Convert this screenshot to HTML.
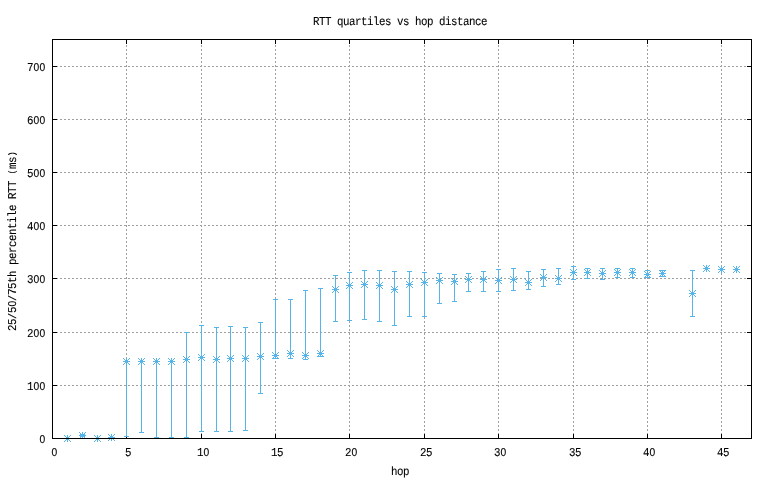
<!DOCTYPE html>
<html lang="en"><head><meta charset="utf-8"><title>RTT quartiles vs hop distance</title>
<style>html,body{margin:0;padding:0;background:#fff;}body{width:770px;height:480px;overflow:hidden;}svg{display:block;}text{font-family:"Liberation Mono","DejaVu Sans Mono",monospace;font-size:12px;text-rendering:geometricPrecision;fill:#000;stroke:#000;stroke-width:0.1px;white-space:pre;}.z{font-family:"Liberation Sans",sans-serif;font-size:11.4px;}.s{font-size:11px;}.p{font-size:9.6px;}</style></head><body>
<svg width="770" height="480" viewBox="0 0 770 480">
<rect x="0" y="0" width="770" height="480" fill="#fff"/>
<defs><g id="m" fill="#56b4e9" shape-rendering="crispEdges">
<rect x="-3" y="0" width="7" height="1"/><rect x="0" y="-3" width="1" height="7"/>
<rect x="-1" y="-1" width="1" height="1"/>
<rect x="-1" y="1" width="1" height="1"/>
<rect x="1" y="-1" width="1" height="1"/>
<rect x="1" y="1" width="1" height="1"/>
<rect x="-2" y="-2" width="1" height="1"/>
<rect x="-2" y="2" width="1" height="1"/>
<rect x="2" y="-2" width="1" height="1"/>
<rect x="2" y="2" width="1" height="1"/>
<rect x="-3" y="-3" width="1" height="1"/>
<rect x="-3" y="3" width="1" height="1"/>
<rect x="3" y="-3" width="1" height="1"/>
<rect x="3" y="3" width="1" height="1"/>
</g></defs>
<g stroke="#a0a0a0" stroke-width="1" stroke-dasharray="2 2" shape-rendering="crispEdges" fill="none">
<line x1="52" y1="385.5" x2="752" y2="385.5"/>
<line x1="52" y1="332.5" x2="752" y2="332.5"/>
<line x1="52" y1="278.5" x2="752" y2="278.5"/>
<line x1="52" y1="225.5" x2="752" y2="225.5"/>
<line x1="52" y1="172.5" x2="752" y2="172.5"/>
<line x1="52" y1="119.5" x2="752" y2="119.5"/>
<line x1="52" y1="66.5" x2="752" y2="66.5"/>
<line x1="126.5" y1="439" x2="126.5" y2="39"/>
<line x1="201.5" y1="439" x2="201.5" y2="39"/>
<line x1="275.5" y1="439" x2="275.5" y2="39"/>
<line x1="349.5" y1="439" x2="349.5" y2="39"/>
<line x1="424.5" y1="439" x2="424.5" y2="39"/>
<line x1="498.5" y1="439" x2="498.5" y2="39"/>
<line x1="573.5" y1="439" x2="573.5" y2="39"/>
<line x1="647.5" y1="439" x2="647.5" y2="39"/>
<line x1="721.5" y1="439" x2="721.5" y2="39"/>
</g>
<g fill="#000" shape-rendering="crispEdges">
<rect x="52" y="438" width="5" height="1"/>
<rect x="747" y="438" width="5" height="1"/>
<rect x="52" y="385" width="5" height="1"/>
<rect x="747" y="385" width="5" height="1"/>
<rect x="52" y="332" width="5" height="1"/>
<rect x="747" y="332" width="5" height="1"/>
<rect x="52" y="278" width="5" height="1"/>
<rect x="747" y="278" width="5" height="1"/>
<rect x="52" y="225" width="5" height="1"/>
<rect x="747" y="225" width="5" height="1"/>
<rect x="52" y="172" width="5" height="1"/>
<rect x="747" y="172" width="5" height="1"/>
<rect x="52" y="119" width="5" height="1"/>
<rect x="747" y="119" width="5" height="1"/>
<rect x="52" y="66" width="5" height="1"/>
<rect x="747" y="66" width="5" height="1"/>
<rect x="52" y="434" width="1" height="5"/>
<rect x="52" y="39" width="1" height="5"/>
<rect x="126" y="434" width="1" height="5"/>
<rect x="126" y="39" width="1" height="5"/>
<rect x="201" y="434" width="1" height="5"/>
<rect x="201" y="39" width="1" height="5"/>
<rect x="275" y="434" width="1" height="5"/>
<rect x="275" y="39" width="1" height="5"/>
<rect x="349" y="434" width="1" height="5"/>
<rect x="349" y="39" width="1" height="5"/>
<rect x="424" y="434" width="1" height="5"/>
<rect x="424" y="39" width="1" height="5"/>
<rect x="498" y="434" width="1" height="5"/>
<rect x="498" y="39" width="1" height="5"/>
<rect x="573" y="434" width="1" height="5"/>
<rect x="573" y="39" width="1" height="5"/>
<rect x="647" y="434" width="1" height="5"/>
<rect x="647" y="39" width="1" height="5"/>
<rect x="721" y="434" width="1" height="5"/>
<rect x="721" y="39" width="1" height="5"/>
</g>
<g fill="#56b4e9" shape-rendering="crispEdges">
<rect x="65" y="438" width="5" height="1"/>
<rect x="65" y="438" width="5" height="1"/>
<rect x="82" y="434" width="1" height="3"/>
<rect x="80" y="434" width="5" height="1"/>
<rect x="80" y="436" width="5" height="1"/>
<rect x="95" y="438" width="5" height="1"/>
<rect x="95" y="438" width="5" height="1"/>
<rect x="109" y="437" width="5" height="1"/>
<rect x="109" y="437" width="5" height="1"/>
<rect x="126" y="361" width="1" height="76"/>
<rect x="124" y="361" width="5" height="1"/>
<rect x="124" y="436" width="5" height="1"/>
<rect x="141" y="361" width="1" height="72"/>
<rect x="139" y="361" width="5" height="1"/>
<rect x="139" y="432" width="5" height="1"/>
<rect x="156" y="361" width="1" height="77"/>
<rect x="154" y="361" width="5" height="1"/>
<rect x="154" y="437" width="5" height="1"/>
<rect x="171" y="361" width="1" height="77"/>
<rect x="169" y="361" width="5" height="1"/>
<rect x="169" y="437" width="5" height="1"/>
<rect x="186" y="332" width="1" height="106"/>
<rect x="184" y="332" width="5" height="1"/>
<rect x="184" y="437" width="5" height="1"/>
<rect x="201" y="325" width="1" height="107"/>
<rect x="199" y="325" width="5" height="1"/>
<rect x="199" y="431" width="5" height="1"/>
<rect x="216" y="327" width="1" height="105"/>
<rect x="214" y="327" width="5" height="1"/>
<rect x="214" y="431" width="5" height="1"/>
<rect x="230" y="326" width="1" height="106"/>
<rect x="228" y="326" width="5" height="1"/>
<rect x="228" y="431" width="5" height="1"/>
<rect x="245" y="327" width="1" height="104"/>
<rect x="243" y="327" width="5" height="1"/>
<rect x="243" y="430" width="5" height="1"/>
<rect x="260" y="322" width="1" height="72"/>
<rect x="258" y="322" width="5" height="1"/>
<rect x="258" y="393" width="5" height="1"/>
<rect x="275" y="299" width="1" height="60"/>
<rect x="273" y="299" width="5" height="1"/>
<rect x="273" y="358" width="5" height="1"/>
<rect x="290" y="299" width="1" height="60"/>
<rect x="288" y="299" width="5" height="1"/>
<rect x="288" y="358" width="5" height="1"/>
<rect x="305" y="290" width="1" height="70"/>
<rect x="303" y="290" width="5" height="1"/>
<rect x="303" y="359" width="5" height="1"/>
<rect x="320" y="288" width="1" height="69"/>
<rect x="318" y="288" width="5" height="1"/>
<rect x="318" y="356" width="5" height="1"/>
<rect x="335" y="275" width="1" height="47"/>
<rect x="333" y="275" width="5" height="1"/>
<rect x="333" y="321" width="5" height="1"/>
<rect x="349" y="272" width="1" height="49"/>
<rect x="347" y="272" width="5" height="1"/>
<rect x="347" y="320" width="5" height="1"/>
<rect x="364" y="270" width="1" height="50"/>
<rect x="362" y="270" width="5" height="1"/>
<rect x="362" y="319" width="5" height="1"/>
<rect x="379" y="270" width="1" height="52"/>
<rect x="377" y="270" width="5" height="1"/>
<rect x="377" y="321" width="5" height="1"/>
<rect x="394" y="271" width="1" height="55"/>
<rect x="392" y="271" width="5" height="1"/>
<rect x="392" y="325" width="5" height="1"/>
<rect x="409" y="271" width="1" height="46"/>
<rect x="407" y="271" width="5" height="1"/>
<rect x="407" y="316" width="5" height="1"/>
<rect x="424" y="272" width="1" height="45"/>
<rect x="422" y="272" width="5" height="1"/>
<rect x="422" y="316" width="5" height="1"/>
<rect x="439" y="273" width="1" height="31"/>
<rect x="437" y="273" width="5" height="1"/>
<rect x="437" y="303" width="5" height="1"/>
<rect x="454" y="274" width="1" height="28"/>
<rect x="452" y="274" width="5" height="1"/>
<rect x="452" y="301" width="5" height="1"/>
<rect x="468" y="273" width="1" height="19"/>
<rect x="466" y="273" width="5" height="1"/>
<rect x="466" y="291" width="5" height="1"/>
<rect x="483" y="271" width="1" height="21"/>
<rect x="481" y="271" width="5" height="1"/>
<rect x="481" y="291" width="5" height="1"/>
<rect x="498" y="269" width="1" height="23"/>
<rect x="496" y="269" width="5" height="1"/>
<rect x="496" y="291" width="5" height="1"/>
<rect x="513" y="268" width="1" height="23"/>
<rect x="511" y="268" width="5" height="1"/>
<rect x="511" y="290" width="5" height="1"/>
<rect x="528" y="271" width="1" height="19"/>
<rect x="526" y="271" width="5" height="1"/>
<rect x="526" y="289" width="5" height="1"/>
<rect x="543" y="269" width="1" height="18"/>
<rect x="541" y="269" width="5" height="1"/>
<rect x="541" y="286" width="5" height="1"/>
<rect x="558" y="268" width="1" height="17"/>
<rect x="556" y="268" width="5" height="1"/>
<rect x="556" y="284" width="5" height="1"/>
<rect x="573" y="266" width="1" height="14"/>
<rect x="571" y="266" width="5" height="1"/>
<rect x="571" y="279" width="5" height="1"/>
<rect x="587" y="268" width="1" height="11"/>
<rect x="585" y="268" width="5" height="1"/>
<rect x="585" y="278" width="5" height="1"/>
<rect x="602" y="268" width="1" height="12"/>
<rect x="600" y="268" width="5" height="1"/>
<rect x="600" y="279" width="5" height="1"/>
<rect x="617" y="268" width="1" height="10"/>
<rect x="615" y="268" width="5" height="1"/>
<rect x="615" y="277" width="5" height="1"/>
<rect x="632" y="268" width="1" height="10"/>
<rect x="630" y="268" width="5" height="1"/>
<rect x="630" y="277" width="5" height="1"/>
<rect x="647" y="270" width="1" height="8"/>
<rect x="645" y="270" width="5" height="1"/>
<rect x="645" y="277" width="5" height="1"/>
<rect x="662" y="270" width="1" height="7"/>
<rect x="660" y="270" width="5" height="1"/>
<rect x="660" y="276" width="5" height="1"/>
<rect x="692" y="270" width="1" height="47"/>
<rect x="690" y="270" width="5" height="1"/>
<rect x="690" y="316" width="5" height="1"/>
<rect x="704" y="268" width="5" height="1"/>
<rect x="704" y="268" width="5" height="1"/>
<rect x="719" y="269" width="5" height="1"/>
<rect x="719" y="269" width="5" height="1"/>
<rect x="734" y="269" width="5" height="1"/>
<rect x="734" y="269" width="5" height="1"/>
</g>
<use href="#m" x="67" y="438"/>
<use href="#m" x="82" y="435"/>
<use href="#m" x="97" y="438"/>
<use href="#m" x="111" y="437"/>
<use href="#m" x="126" y="361"/>
<use href="#m" x="141" y="361"/>
<use href="#m" x="156" y="361"/>
<use href="#m" x="171" y="361"/>
<use href="#m" x="186" y="359"/>
<use href="#m" x="201" y="357"/>
<use href="#m" x="216" y="359"/>
<use href="#m" x="230" y="358"/>
<use href="#m" x="245" y="358"/>
<use href="#m" x="260" y="356"/>
<use href="#m" x="275" y="355"/>
<use href="#m" x="290" y="353"/>
<use href="#m" x="305" y="355"/>
<use href="#m" x="320" y="353"/>
<use href="#m" x="335" y="289"/>
<use href="#m" x="349" y="285"/>
<use href="#m" x="364" y="284"/>
<use href="#m" x="379" y="285"/>
<use href="#m" x="394" y="289"/>
<use href="#m" x="409" y="284"/>
<use href="#m" x="424" y="282"/>
<use href="#m" x="439" y="280"/>
<use href="#m" x="454" y="281"/>
<use href="#m" x="468" y="279"/>
<use href="#m" x="483" y="279"/>
<use href="#m" x="498" y="280"/>
<use href="#m" x="513" y="279"/>
<use href="#m" x="528" y="282"/>
<use href="#m" x="543" y="277"/>
<use href="#m" x="558" y="278"/>
<use href="#m" x="573" y="272"/>
<use href="#m" x="587" y="272"/>
<use href="#m" x="602" y="273"/>
<use href="#m" x="617" y="272"/>
<use href="#m" x="632" y="272"/>
<use href="#m" x="647" y="274"/>
<use href="#m" x="662" y="273"/>
<use href="#m" x="692" y="293"/>
<use href="#m" x="706" y="268"/>
<use href="#m" x="721" y="269"/>
<use href="#m" x="736" y="269"/>
<g fill="#000" shape-rendering="crispEdges">
<rect x="52" y="39" width="700" height="1"/>
<rect x="52" y="438" width="700" height="1"/>
<rect x="52" y="39" width="1" height="400"/>
<rect x="751" y="39" width="1" height="400"/>
</g>
<g>
<text transform="translate(313 25) scale(0.9 1)"><tspan x="0.00 6.67 13.33 20.00 26.67 33.33 40.00 46.67 53.33 60.00 66.67 73.33 80.00 86.67 93.33 100.00 106.67 113.33 120.00 126.67 133.33 140.00 146.67 153.33 160.00 166.67 173.33 180.00 186.67" y="0">RTT quartiles vs hop distance</tspan></text>
<text transform="translate(391 475) scale(0.9 1)"><tspan x="0.00 6.67 13.33" y="0">hop</tspan></text>
<text transform="translate(16 331) rotate(-90) scale(0.9 1)"><tspan x="0.00 6.67" y="0">25</tspan><tspan class="s" x="13.33" y="0">/</tspan><tspan x="20.00" y="0">5</tspan><tspan class="z" x="27.32" y="0">0</tspan><tspan class="s" x="33.33" y="0">/</tspan><tspan x="40.00 46.67 53.33 60.00 66.67 73.33 80.00 86.67 93.33 100.00 106.67 113.33 120.00 126.67 133.33 140.00 146.67 153.33 160.00 166.67" y="0">75th percentile RTT </tspan><tspan class="p" x="173.78" y="-1">(</tspan><tspan x="180.00 186.67" y="0">ms</tspan><tspan class="p" x="193.78" y="-1">)</tspan></text>
<text transform="translate(39 443) scale(0.9 1)"><tspan class="z" x="0.66" y="0">0</tspan></text>
<text transform="translate(27 390) scale(0.9 1)"><tspan x="0.00" y="0">1</tspan><tspan class="z" x="7.32 13.99" y="0">00</tspan></text>
<text transform="translate(27 337) scale(0.9 1)"><tspan x="0.00" y="0">2</tspan><tspan class="z" x="7.32 13.99" y="0">00</tspan></text>
<text transform="translate(27 283) scale(0.9 1)"><tspan x="0.00" y="0">3</tspan><tspan class="z" x="7.32 13.99" y="0">00</tspan></text>
<text transform="translate(27 230) scale(0.9 1)"><tspan x="0.00" y="0">4</tspan><tspan class="z" x="7.32 13.99" y="0">00</tspan></text>
<text transform="translate(27 177) scale(0.9 1)"><tspan x="0.00" y="0">5</tspan><tspan class="z" x="7.32 13.99" y="0">00</tspan></text>
<text transform="translate(27 124) scale(0.9 1)"><tspan x="0.00" y="0">6</tspan><tspan class="z" x="7.32 13.99" y="0">00</tspan></text>
<text transform="translate(27 71) scale(0.9 1)"><tspan x="0.00" y="0">7</tspan><tspan class="z" x="7.32 13.99" y="0">00</tspan></text>
<text transform="translate(51 456) scale(0.9 1)"><tspan class="z" x="0.66" y="0">0</tspan></text>
<text transform="translate(125 456) scale(0.9 1)"><tspan x="0.00" y="0">5</tspan></text>
<text transform="translate(197 456) scale(0.9 1)"><tspan x="0.00" y="0">1</tspan><tspan class="z" x="7.32" y="0">0</tspan></text>
<text transform="translate(271 456) scale(0.9 1)"><tspan x="0.00 6.67" y="0">15</tspan></text>
<text transform="translate(345 456) scale(0.9 1)"><tspan x="0.00" y="0">2</tspan><tspan class="z" x="7.32" y="0">0</tspan></text>
<text transform="translate(420 456) scale(0.9 1)"><tspan x="0.00 6.67" y="0">25</tspan></text>
<text transform="translate(494 456) scale(0.9 1)"><tspan x="0.00" y="0">3</tspan><tspan class="z" x="7.32" y="0">0</tspan></text>
<text transform="translate(569 456) scale(0.9 1)"><tspan x="0.00 6.67" y="0">35</tspan></text>
<text transform="translate(643 456) scale(0.9 1)"><tspan x="0.00" y="0">4</tspan><tspan class="z" x="7.32" y="0">0</tspan></text>
<text transform="translate(717 456) scale(0.9 1)"><tspan x="0.00 6.67" y="0">45</tspan></text>
</g>
</svg></body></html>
